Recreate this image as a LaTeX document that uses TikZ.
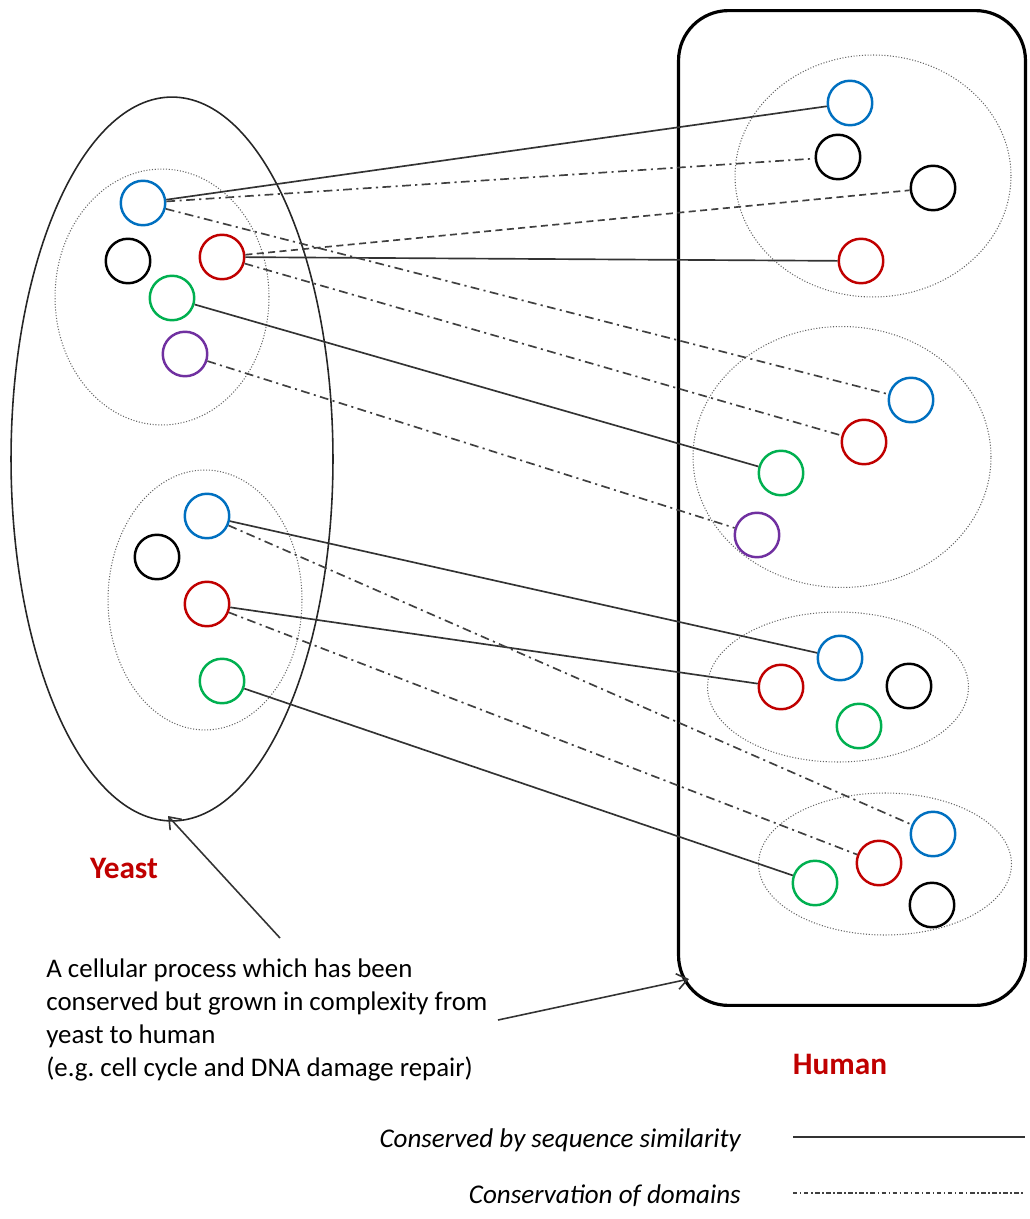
\documentclass[tikz,border=0pt]{standalone}
\usepackage{fontspec}
\setmainfont{Carlito}
\usetikzlibrary{shapes.geometric,arrows.meta}

\definecolor{gblu}{RGB}{0,112,192}
\definecolor{grosso}{RGB}{192,0,0}
\definecolor{gverde}{RGB}{0,176,80}
\definecolor{gviola}{RGB}{112,48,160}
\definecolor{gnero}{RGB}{0,0,0}

\tikzset{
  gene/.style={circle, draw=#1, line width=1.4pt, minimum size=0.89cm, inner sep=0pt},
  gruppo/.style={ellipse, draw=black!60, densely dotted, line width=0.6pt, inner sep=0pt},
  seq/.style={line width=0.95pt, draw=black!80},
  dominio/.style={line width=0.95pt, draw=black!75, dash pattern=on 5pt off 2.5pt on 1.2pt off 2.5pt},
  tratteggio/.style={line width=0.95pt, draw=black!75, dash pattern=on 4pt off 2.5pt},
  etichetta/.style={text=grosso, font=\fontsize{17.8}{21}\selectfont\bfseries},
  freccia/.style={line width=0.9pt, draw=black!80, -{Straight Barb[length=6pt,width=9pt]}}
}

\begin{document}
\begin{tikzpicture}[x=0.02cm, y=-0.02cm]

\useasboundingbox (0,0) rectangle (1029,1219);

% Contenitori
\node[ellipse, draw=black!85, line width=0.9pt, minimum width=6.44cm, minimum height=14.48cm, inner sep=0pt] (lievito) at (172,459) {};
\node[draw=black, line width=1.8pt, rounded corners=1cm, minimum width=6.94cm, minimum height=19.9cm, inner sep=0pt] (umano) at (852,508) {};

% Gruppi (ellissi punteggiate)
\node[gruppo, minimum width=4.28cm, minimum height=5.12cm] (gy1) at (162,297) {};
\node[gruppo, minimum width=3.88cm, minimum height=5.2cm] (gy2) at (205,600) {};
\node[gruppo, minimum width=5.52cm, minimum height=4.84cm] (gh1) at (873,176) {};
\node[gruppo, minimum width=5.96cm, minimum height=5.22cm] (gh2) at (842,457) {};
\node[gruppo, minimum width=5.22cm, minimum height=3.0cm] (gh3) at (838,687) {};
\node[gruppo, minimum width=5.06cm, minimum height=2.84cm] (gh4) at (885,864) {};

% Geni del lievito
\foreach \n/\x/\y/\c in {yb1/143/203/gblu, yk1/128/261/gnero, yr1/222/257/grosso,
    yg1/172/298/gverde, yp1/185/354/gviola,
    yb2/207/516/gblu, yk2/157/557/gnero, yr2/207/604/grosso, yg2/222/681/gverde}
  \node[gene=\c] (\n) at (\x,\y) {};

% Geni umani
\foreach \n/\x/\y/\c in {hb1/850/103/gblu, hk1/838/157/gnero, hj1/933/188/gnero, hr1/861/261/grosso,
    hb2/911/400/gblu, hr2/864/442/grosso, hg2/781/473/gverde, hp2/757/535/gviola,
    hb3/840/658/gblu, hr3/781/687/grosso, hk3/909/686/gnero, hg3/859/726/gverde,
    hb4/933/834/gblu, hr4/879/863/grosso, hg4/815/883/gverde, hk4/932/905/gnero}
  \node[gene=\c] (\n) at (\x,\y) {};

% Similarita' di sequenza
\foreach \a/\b in {yb1/hb1, yr1/hr1, yg1/hg2, yb2/hb3, yr2/hr3, yg2/hg4}
  \draw[seq] (\a) -- (\b);

% Domini conservati
\foreach \a/\b in {yb1/hk1, yb1/hb2, yr1/hr2, yp1/hp2, yb2/hb4, yr2/hr4}
  \draw[dominio] (\a) -- (\b);
\draw[tratteggio] (yr1) -- (hj1);

% Etichette
\node[etichetta] (yeast) at (124,868) {Yeast};
\node[etichetta] (human) at (840,1064) {Human};

% Testo e frecce
\node[anchor=north west, align=left, inner sep=0pt, font=\fontsize{15.3}{18.8}\selectfont] (testo) at (46,958)
  {A cellular process which has been\\conserved but grown in complexity from\\yeast to human\\(e.g.\ cell cycle and DNA damage repair)};
\coordinate (cody) at (280,938);
\coordinate (codh) at (498,1020);
\coordinate (puntoh) at (689,979);
\draw[freccia] (cody) -- (168,816);
\draw[freccia] (codh) -- (puntoh);

% Legenda
\node[anchor=east, font=\fontsize{15.4}{18}\selectfont\itshape] (leg1) at (747,1140) {Conserved by sequence similarity};
\node[anchor=east, font=\fontsize{15.4}{18}\selectfont\itshape] (leg2) at (747,1196) {Conservation of domains};
\coordinate (l1a) at (793,1137); \coordinate (l1b) at (1025,1137);
\coordinate (l2a) at (793,1193); \coordinate (l2b) at (1025,1193);
\draw[seq, line width=1.2pt] (l1a) -- (l1b);
\draw[dominio, dash pattern=on 2.5pt off 1.5pt on 0.8pt off 1.5pt] (l2a) -- (l2b);

\end{tikzpicture}
\end{document}
